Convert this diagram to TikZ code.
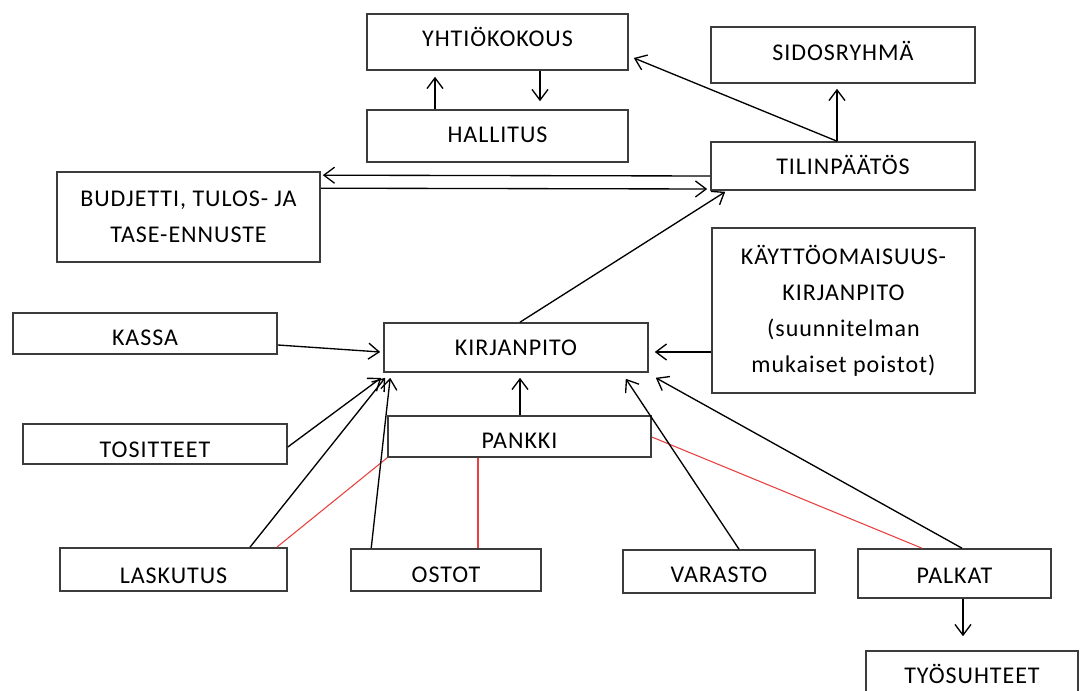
\documentclass[tikz,border=0pt]{standalone}
\usepackage{fontspec}
\setmainfont{Carlito}[LetterSpace=4]
\usetikzlibrary{arrows.meta,calc}
\definecolor{boxline}{RGB}{60,60,60}
\definecolor{redline}{RGB}{232,64,64}
\tikzset{
  box/.style={draw=boxline, line width=1.2pt, inner sep=0pt, fill=white,
    font=\fontsize{18}{27}\selectfont, align=center},
  tx/.style={text height=#1, text depth=0pt},
  arr/.style={draw=black, line width=1pt, -{Straight Barb[length=8pt,width=12pt,line width=1pt]}},
  redl/.style={draw=redline, line width=0.8pt},
}
% \bx[options]{name}{x1}{y1}{x2}{y2}{text}   (pixel coordinates, y downwards)
\newcommand\bx[7][]{\node[box,minimum width={(#5-#3)*0.75pt},minimum height={(#6-#4)*0.75pt},#1] (#2) at ({(#3+#5)/2},{(#4+#6)/2}) {#7};}
\begin{document}
\begin{tikzpicture}[x=0.75pt,y=-0.75pt]
\useasboundingbox (0,0) rectangle (1083,691);
\fill[white] (0,0) rectangle (1083,691);
\clip (0,0) rectangle (1083,691);

% boxes
\bx[tx=6.9pt]{yhtio}{367}{14}{628}{70}{YHTIÖKOKOUS}
\bx[tx=9.9pt]{hallitus}{367}{110}{628}{162}{HALLITUS}
\bx[tx=8.4pt]{sidos}{711}{27}{975}{83}{SIDOSRYHMÄ}
\bx[tx=12.9pt]{tilin}{711}{142}{975}{190}{TILINPÄÄTÖS}
\bx{budj}{57}{172}{320}{262}{BUDJETTI, TULOS- JA\\TASE-ENNUSTE}
\bx{kaytto}{712}{228}{975}{393}{KÄYTTÖOMAISUUS-\\KIRJANPITO\\(suunnitelman\\mukaiset poistot)}
\bx[tx=18.15pt]{kassa}{13}{313}{277}{354}{KASSA}
\bx[tx=11.4pt]{kirjanpito}{384}{323}{648}{372}{KIRJANPITO}
\bx[tx=20.4pt]{tositteet}{23}{424}{287}{464}{TOSITTEET}
\bx[tx=17.4pt]{pankki}{388}{416}{651}{457}{PANKKI}
\bx[tx=20.4pt]{laskutus}{60}{548}{287}{591}{LASKUTUS}
\bx[tx=18.9pt]{ostot}{351}{549}{541}{591}{OSTOT}
\bx[tx=16.65pt]{varasto}{623}{550}{815}{593}{VARASTO}
\bx[tx=15.15pt]{palkat}{858}{549}{1051}{598}{PALKAT}
\bx[tx=11.4pt]{tyosuhteet}{866}{651}{1078}{700}{TYÖSUHTEET}

% red connections
\draw[redl] (pankki.south west) -- ($(laskutus.north east)+(-11,0)$);
\draw[redl] ($(pankki.south)+(-41.5,0)$) -- ($(ostot.north)+(32,0)$);
\draw[redl] ($(pankki.east)+(0,0.5)$) -- ($(palkat.north)+(-32.5,0)$);

% arrows
\draw[arr] ($(hallitus.north)+(-62.5,0)$) -- ($(yhtio.south)+(-62.5,6)$);
\draw[arr] ($(yhtio.south)+(42.5,0)$) -- ($(hallitus.north)+(42.5,-8)$);
\draw[arr] ($(tilin.north)+(-6,0)$) -- ($(sidos.south)+(-6,5)$);
\draw[arr] ($(tilin.north)+(-6,0)$) -- ($(yhtio.east)+(5,16)$);
\draw[arr] ($(tilin.west)+(0,10)$) -- ($(budj.north east)+(2,4)$);
\draw[arr] ($(budj.north east)+(0,17)$) -- ($(tilin.west)+(-3,23)$);
\draw[arr] ($(kirjanpito.north)+(4,0)$) -- ($(tilin.south west)+(15,1)$);
\draw[arr] ($(kaytto.west)+(0,41.5)$) -- ($(kirjanpito.east)+(6,4.5)$);
\draw[arr] ($(kassa.east)+(0,11.5)$) -- ($(kirjanpito.west)+(-3,4.5)$);
\draw[arr] ($(tositteet.east)+(0,3)$) -- ($(kirjanpito.south west)+(-2,5)$);
\draw[arr] ($(laskutus.north)+(76.5,0)$) -- ($(kirjanpito.south west)+(2,5)$);
\draw[arr] ($(ostot.north west)+(21,0)$) -- ($(kirjanpito.south west)+(7,5)$);
\draw[arr] ($(pankki.north)+(0.5,0)$) -- ($(kirjanpito.south)+(4,5)$);
\draw[arr] ($(varasto.north)+(20,0)$) -- ($(kirjanpito.south east)+(-23,6)$);
\draw[arr] ($(palkat.north)+(7.5,0)$) -- ($(kirjanpito.south east)+(7,5)$);
\draw[arr] ($(palkat.south)+(8.5,0)$) -- ($(tyosuhteet.north)+(-9,-14)$);
\end{tikzpicture}
\end{document}
